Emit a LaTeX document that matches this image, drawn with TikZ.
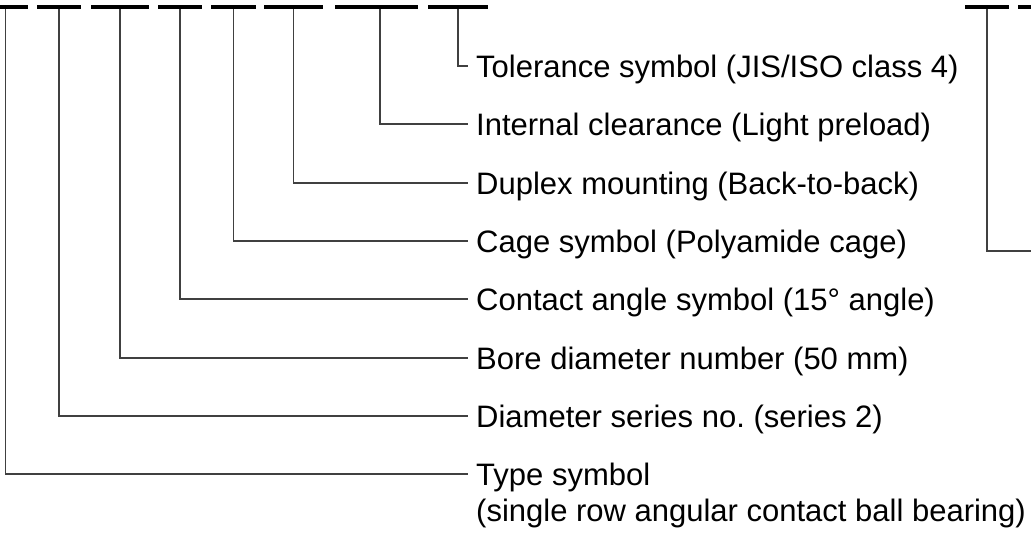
\documentclass[tikz,border=0pt]{standalone}
\usepackage{fontspec}
\setmainfont{Liberation Sans}
\frenchspacing
\begin{document}
\begin{tikzpicture}[x=1pt,y=-1pt,
  bar/.style={fill=black,draw=none,inner sep=0pt,minimum height=4pt},
  conn/.style={draw=black!75,line width=1.1pt},
  lab/.style={anchor=base west,inner sep=0pt,font=\fontsize{31}{36}\selectfont,align=left}]
\useasboundingbox (0,0) rectangle (1031,533);
% code bars
\node[bar,minimum width=28pt] (b1) at (14,7) {};
\node[bar,minimum width=44pt] (b2) at (59,7) {};
\node[bar,minimum width=58pt] (b3) at (120,7) {};
\node[bar,minimum width=44pt] (b4) at (180,7) {};
\node[bar,minimum width=45pt] (b5) at (233.5,7) {};
\node[bar,minimum width=59pt] (b6) at (293.5,7) {};
\node[bar,minimum width=83pt] (b7) at (376.5,7) {};
\node[bar,minimum width=60pt] (b8) at (458,7) {};
\node[bar,minimum width=44pt] (br1) at (987,7) {};
\node[bar,minimum width=13pt] (br2) at (1024.5,7) {};
% labels
\node[lab] (l8) at (476,77) {Tolerance symbol (JIS/ISO class 4)};
\node[lab] (l7) at (476,135) {Internal clearance (Light preload)};
\node[lab] (l6) at (476,194) {Duplex mounting (Back-to-back)};
\node[lab] (l5) at (476,252) {Cage symbol (Polyamide cage)};
\node[lab] (l4) at (476,310) {Contact angle symbol (15° angle)};
\node[lab] (l3) at (476,369) {Bore diameter number (50 mm)};
\node[lab] (l2) at (476,427) {Diameter series no. (series 2)};
\node[lab] (l1) at (476,521) {Type symbol\\(single row angular contact ball bearing)};
% connectors
\draw[conn] (b8.south) |- ([xshift=-8pt,yshift=11pt]l8.base west);
\draw[conn] ([xshift=3.5pt]b7.south) |- ([xshift=-8pt,yshift=11pt]l7.base west);
\draw[conn] (b6.south) |- ([xshift=-8pt,yshift=11pt]l6.base west);
\draw[conn] (b5.south) |- ([xshift=-8pt,yshift=11pt]l5.base west);
\draw[conn] (b4.south) |- ([xshift=-8pt,yshift=11pt]l4.base west);
\draw[conn] (b3.south) |- ([xshift=-8pt,yshift=11pt]l3.base west);
\draw[conn] (b2.south) |- ([xshift=-8pt,yshift=11pt]l2.base west);
\draw[conn] ([xshift=6pt]b1.south west) |- ([xshift=-8pt,yshift=47pt]l1.base west);
\coordinate (rend) at (1031,251);
\draw[conn] (br1.south) |- (rend);
\end{tikzpicture}
\end{document}
